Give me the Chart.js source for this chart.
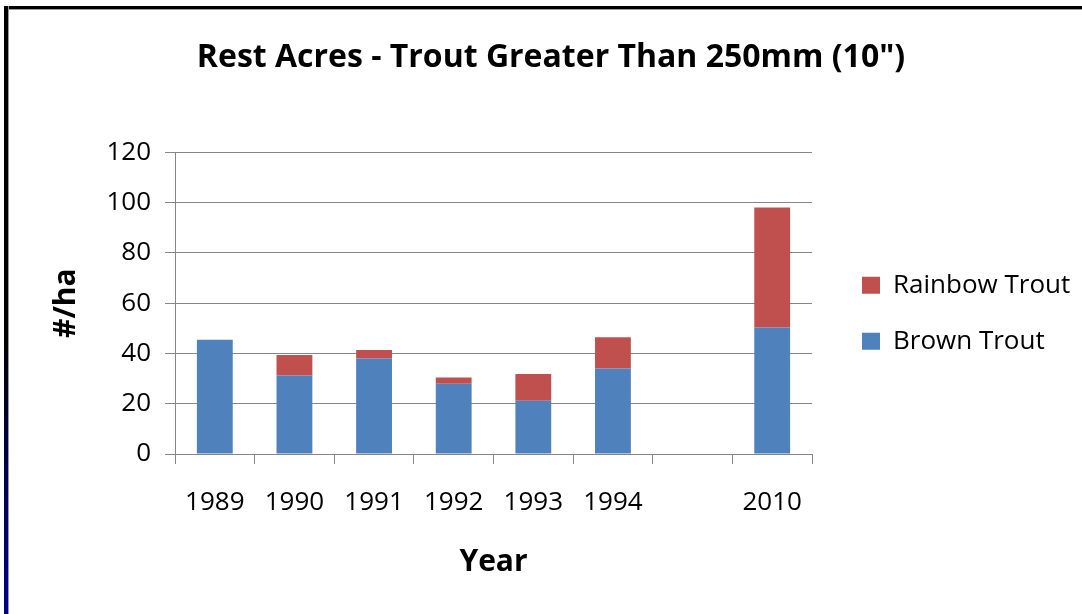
<!DOCTYPE html>
<html>
<head>
<meta charset="utf-8">
<title>Rest Acres - Trout Greater Than 250mm</title>
<script src="https://cdn.jsdelivr.net/npm/chart.js@4/dist/chart.umd.min.js"></script>
<style>
    html, body { margin: 0; padding: 0; background: #fff; }
    #wrap { position: relative; width: 1082px; height: 614px; overflow: hidden; }
    #chart { position: absolute; left: 0; top: 0; }
    .frame-top { position: absolute; left: 4px; top: 6px; width: 1078px; height: 3px; background: #000; border-bottom: 1px solid #9a9a9a; }
    .frame-left { position: absolute; left: 4px; top: 6px; width: 4px; height: 608px; border-right: 1px solid #9a9a9a;
        background: linear-gradient(to bottom, #000 0%, #000 55%, #000066 85%, #00008a 100%); }
</style>
</head>
<body>
<div id="wrap">
    <canvas id="chart" width="1082" height="614"></canvas>
    <div class="frame-top"></div>
    <div class="frame-left"></div>
</div>
<script>
// Chart data
const years = ['1989', '1990', '1991', '1992', '1993', '1994', '', '2010'];
const brownTrout = [45.5, 31.2, 38, 28, 21.2, 34, null, 50.3];
const rainbowTrout = [0, 8.2, 3.4, 2.4, 10.6, 12.5, null, 47.8];
const yTicks = [0, 20, 40, 60, 80, 100, 120];

const gridColor = '#868686';
const fontFamily = '"Open Sans", "DejaVu Sans", sans-serif';

const ctx = document.getElementById('chart').getContext('2d');
new Chart(ctx, {
    type: 'bar',
    data: {
        labels: years,
        datasets: [
            {
                label: 'Brown Trout',
                data: brownTrout,
                backgroundColor: '#4F81BD',
                barPercentage: 0.45,
                categoryPercentage: 1
            },
            {
                label: 'Rainbow Trout',
                data: rainbowTrout,
                backgroundColor: '#C0504D',
                barPercentage: 0.45,
                categoryPercentage: 1
            }
        ]
    },
    options: {
        responsive: false,
        animation: false,
        layout: { padding: { left: 24, right: 4, top: 0, bottom: 0 } },
        plugins: {
            title: {
                display: true,
                text: 'Rest Acres - Trout Greater Than 250mm (10")',
                color: '#000',
                font: { family: fontFamily, size: 32, weight: 'bold' },
                padding: { top: 39, bottom: 75 }
            },
            legend: {
                position: 'right',
                fullSize: false,
                reverse: true,
                maxWidth: 246,
                title: { display: true, text: '', font: { size: 10 }, padding: 4 },
                labels: {
                    color: '#000',
                    font: { family: fontFamily, size: 26 },
                    boxWidth: 18,
                    boxHeight: 17,
                    padding: 30
                }
            },
            tooltip: { enabled: false }
        },
        scales: {
            x: {
                stacked: true,
                grid: {
                    display: true,
                    offset: true,
                    drawOnChartArea: false,
                    drawTicks: true,
                    tickLength: 10,
                    color: gridColor
                },
                border: { display: true, color: gridColor },
                ticks: {
                    color: '#000',
                    font: { family: fontFamily, size: 26 },
                    padding: 23,
                    maxRotation: 0,
                    autoSkip: false
                },
                title: {
                    display: true,
                    text: 'Year',
                    color: '#000',
                    font: { family: fontFamily, size: 30, weight: 'bold' },
                    padding: { top: 0, bottom: 34 }
                },
                afterFit: function (scale) { scale.height = 160; }
            },
            y: {
                stacked: true,
                min: 0,
                max: 120,
                afterBuildTicks: function (scale) {
                    scale.ticks = yTicks.map(v => ({ value: v }));
                },
                grid: {
                    color: gridColor,
                    tickLength: 10
                },
                border: { display: true, color: gridColor },
                ticks: {
                    color: '#000',
                    font: { family: fontFamily, size: 26 },
                    padding: 14
                },
                title: {
                    display: true,
                    text: '#/ha',
                    color: '#000',
                    font: { family: fontFamily, size: 30, weight: 'bold' },
                    padding: { top: 24, bottom: 0 }
                },
                afterFit: function (scale) { scale.width = 151; }
            },
            // empty axis, just keeps the legend away from the plot
            gap: {
                type: 'linear',
                axis: 'y',
                position: 'right',
                grid: { display: false },
                border: { display: false },
                ticks: { display: false },
                afterFit: function (scale) { scale.width = 20; }
            }
        }
    }
});
</script>
</body>
</html>
